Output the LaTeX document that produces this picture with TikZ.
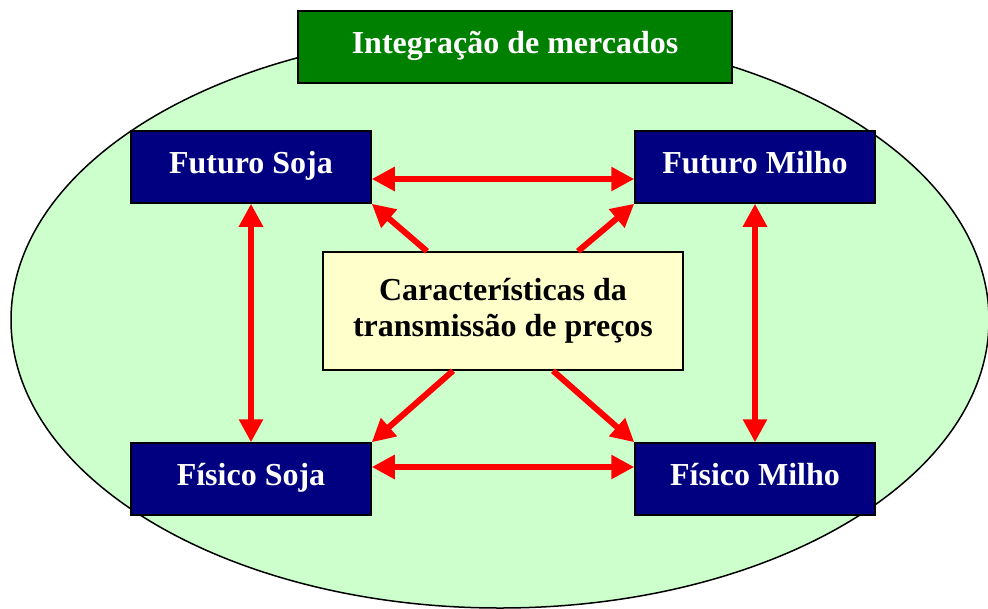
\documentclass[tikz,border=0pt]{standalone}
\usepackage{fontspec}
\setmainfont{Liberation Serif}
\usetikzlibrary{arrows.meta}
\definecolor{mktgreen}{HTML}{008000}
\definecolor{mktblue}{HTML}{000080}
\definecolor{mktyellow}{HTML}{FFFFCC}
\definecolor{mktbg}{HTML}{CCFFCC}
\begin{document}
\begin{tikzpicture}[
  x=1pt, y=-1pt,
  >={Triangle[length=23pt,width=23pt]},
  market/.style={rectangle, draw, line width=1.5pt, fill=mktblue, text=white, minimum width=240pt, minimum height=72pt, text height=20pt, text depth=8pt, font=\fontsize{32}{36}\selectfont\bfseries},
  title/.style={rectangle, draw, line width=1.5pt, fill=mktgreen, text=white, minimum width=434pt, minimum height=72pt, text height=20pt, text depth=8pt, font=\fontsize{32}{36}\selectfont\bfseries},
  hub/.style={rectangle, draw, line width=1.5pt, fill=mktyellow, minimum width=360pt, minimum height=118pt, align=center, font=\fontsize{32}{36}\selectfont\bfseries},
  link/.style={line width=6pt, red}
]
\useasboundingbox (0,0) rectangle (988,608);
\path[draw, line width=1.5pt, fill=mktbg] (500,320) ellipse [x radius=489, y radius=288];

\node[title] (integ) at (515,47) {Integração de mercados};
\node[market] (fsoja) at (251,167) {Futuro Soja};
\node[market] (fmilho) at (755,167) {Futuro Milho};
\node[market] (psoja) at (251,479) {Físico Soja};
\node[market] (pmilho) at (755,479) {Físico Milho};
\node[hub] (carac) at (503,311) {Características da\\transmissão de preços};

\draw[link,<->] ([yshift=-12pt]fsoja.east) -- ([yshift=-12pt]fmilho.west);
\draw[link,<->] ([yshift=12pt]psoja.east) -- ([yshift=12pt]pmilho.west);
\draw[link,<->] (fsoja) -- (psoja);
\draw[link,<->] (fmilho) -- (pmilho);
\draw[link,->] ([xshift=-76pt]carac.north) -- (fsoja.south east);
\draw[link,->] ([xshift=75pt]carac.north) -- (fmilho.south west);
\draw[link,->] ([xshift=-50pt]carac.south) -- (psoja.north east);
\draw[link,->] ([xshift=50pt]carac.south) -- (pmilho.north west);
\end{tikzpicture}
\end{document}
